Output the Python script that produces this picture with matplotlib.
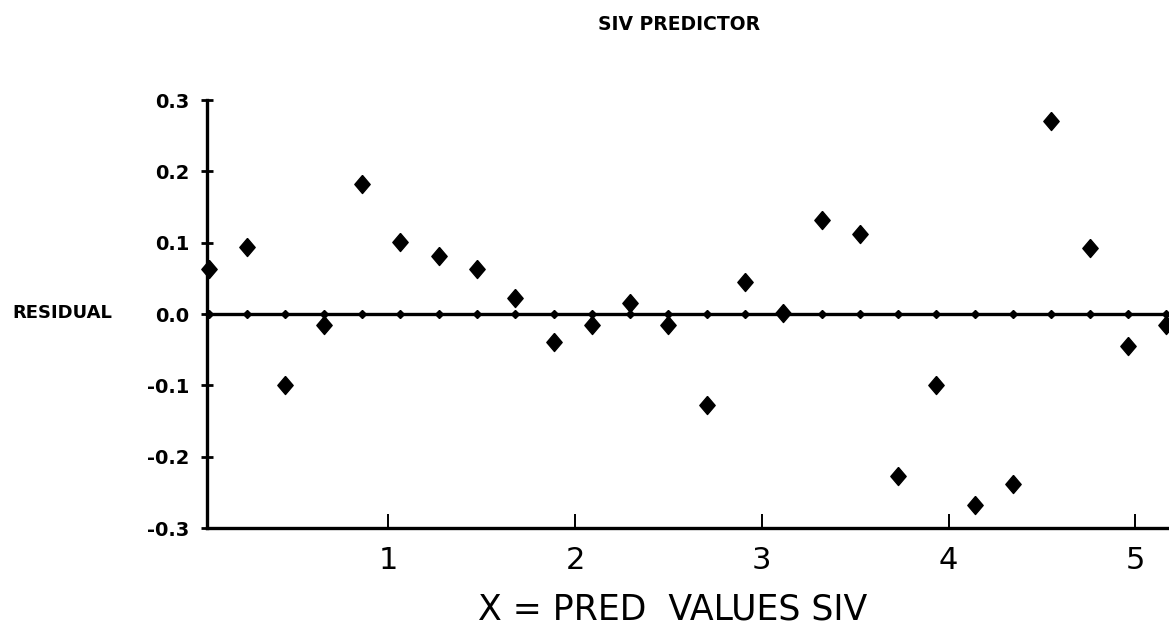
import matplotlib
matplotlib.use("Agg")
import matplotlib.pyplot as plt


# predicted SIV values (x) and residuals (y)
PRED_VALUES = [0.04, 0.245, 0.45, 0.655, 0.86, 1.065, 1.27, 1.475, 1.68, 1.885,
               2.09, 2.295, 2.50, 2.705, 2.91, 3.115, 3.32, 3.525, 3.73, 3.935,
               4.14, 4.345, 4.55, 4.755, 4.96, 5.165]
RESIDUALS = [0.063, 0.094, -0.100, -0.015, 0.182, 0.101, 0.081, 0.063, 0.022, -0.039,
             -0.015, 0.015, -0.015, -0.128, 0.045, 0.001, 0.132, 0.112, -0.227, -0.100,
             -0.268, -0.238, 0.271, 0.093, -0.045, -0.015]
X_TICKS = [1, 2, 3, 4, 5]
X_TICK_LABELS = ["1", "2", "3", "4", "5"]
Y_TICKS = [-0.3, -0.2, -0.1, 0.0, 0.1, 0.2, 0.3]
Y_TICK_LABELS = ["-0.3", "-0.2", "-0.1", "0.0", "0.1", "0.2", "0.3"]

W, H = 1169, 642
fig = plt.figure(figsize=(W / 100, H / 100), dpi=100)
ax = fig.add_axes([207 / W, 1 - 528 / H, 1 - 207 / W, (528 - 100) / H])

ax.set_xlim(0.03, 5.18)
ax.set_ylim(-0.3, 0.3)

# zero reference line with small dots at every prediction
ax.axhline(0.0, color="black", linewidth=2.4, zorder=2)
ax.plot(PRED_VALUES, [0.0] * len(PRED_VALUES), linestyle="none", marker="D",
        markersize=4, color="black", zorder=3, clip_on=False)

diamond = [(0, 1), (0.85, 0), (0, -1), (-0.85, 0), (0, 1)]
ax.plot(PRED_VALUES, RESIDUALS, linestyle="none", marker=diamond,
        markersize=13, color="black", zorder=4, clip_on=False)

for side in ["top", "right"]:
    ax.spines[side].set_visible(False)
ax.spines["left"].set_linewidth(2.4)
ax.spines["bottom"].set_linewidth(2.4)

ax.set_xticks(X_TICKS)
ax.set_xticklabels(X_TICK_LABELS, fontsize=22)
ax.tick_params(axis="x", direction="in", length=10, width=1.4, pad=13)

ax.set_yticks(Y_TICKS)
ax.set_yticklabels(Y_TICK_LABELS, fontsize=14, fontweight="bold")
ax.tick_params(axis="y", direction="inout", length=9, width=2, pad=8)

fig.text(12 / W, 1 - 313 / H, "RESIDUAL", fontsize=13, fontweight="bold",
         ha="left", va="center")
fig.text(679 / W, 1 - 25 / H, "SIV PREDICTOR", fontsize=13.5, fontweight="bold",
         ha="center", va="center")
fig.text(673 / W, 1 - 610 / H, "X = PRED  VALUES SIV", fontsize=25,
         ha="center", va="center")

fig.savefig("out.png", dpi=100)
